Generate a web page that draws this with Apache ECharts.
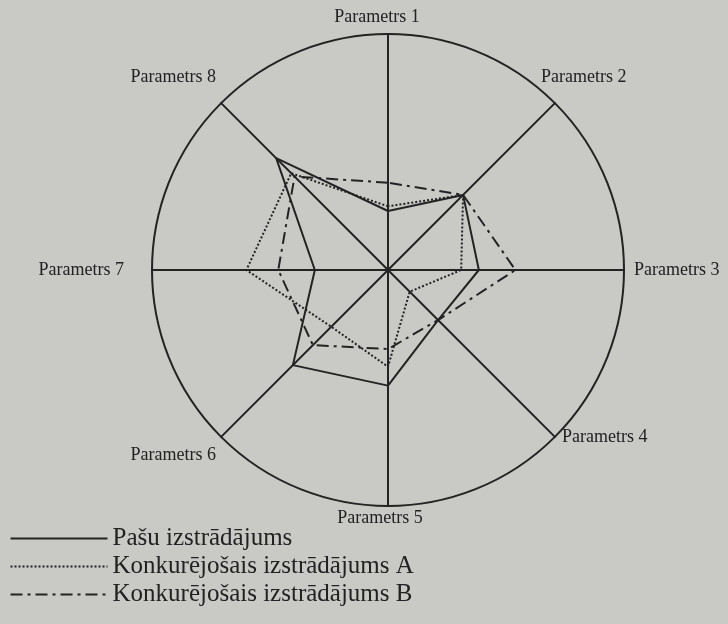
<!DOCTYPE html>
<html>
<head>
<meta charset="utf-8">
<script src="https://cdn.jsdelivr.net/npm/echarts@6/dist/echarts.min.js"></script>
<style>
  html, body { margin: 0; padding: 0; background: #c9c9c6; }
  #chart { width: 728px; height: 624px; }
</style>
</head>
<body>
<div id="chart"></div>
<script>
// Parameter names, clockwise from the top
const parameters = ['Parametrs 1', 'Parametrs 2', 'Parametrs 3', 'Parametrs 4',
                    'Parametrs 5', 'Parametrs 6', 'Parametrs 7', 'Parametrs 8'];
// Series names
const seriesNames = ['Pašu izstrādājums', 'Konkurējošais izstrādājums A', 'Konkurējošais izstrādājums B'];
// Scores on a 0..1 scale, one per parameter (same order as above)
const ownProduct   = [0.25, 0.45, 0.385, 0.30, 0.49, 0.57, 0.31, 0.67];
const competitorA  = [0.27, 0.45, 0.31, 0.13, 0.41, 0.34, 0.60, 0.58];
const competitorB  = [0.37, 0.45, 0.54, 0.30, 0.335, 0.45, 0.465, 0.56];

// Where each parameter caption sits around the circle (anchor point and alignment)
const captionPlacement = [
  { x: 377, y: 17,  align: 'center' },
  { x: 541, y: 77,  align: 'left' },
  { x: 634, y: 270, align: 'left' },
  { x: 562, y: 437, align: 'left' },
  { x: 380, y: 518, align: 'center' },
  { x: 216, y: 455, align: 'right' },
  { x: 124, y: 270, align: 'right' },
  { x: 216, y: 77,  align: 'right' }
];

// ECharts lays radar indicators out counter-clockwise; reorder so they run clockwise
const order = [0, 7, 6, 5, 4, 3, 2, 1];
const byOrder = arr => order.map(i => arr[i]);

const ink = '#232323';
const serif = '"Liberation Serif", "Times New Roman", serif';
const lineTypes = ['solid', 'dotted', [12, 5, 3, 5]];
const allSeries = [ownProduct, competitorA, competitorB];

const chart = echarts.init(document.getElementById('chart'));
chart.setOption({
  backgroundColor: '#c9c9c6',
  animation: false,
  graphic: parameters.map((name, i) => ({
    type: 'text',
    x: captionPlacement[i].x,
    y: captionPlacement[i].y,
    silent: true,
    style: {
      text: name,
      fill: '#222',
      font: '18px ' + serif,
      align: captionPlacement[i].align,
      textAlign: captionPlacement[i].align,
      verticalAlign: 'middle',
      textVerticalAlign: 'middle'
    }
  })),
  legend: {
    orient: 'vertical',
    left: 8,
    top: 526,
    padding: 0,
    itemWidth: 97,
    itemHeight: 10,
    itemGap: 3,
    selectedMode: false,
    textStyle: { color: '#222', fontFamily: serif, fontSize: 25, lineHeight: 25 },
    data: seriesNames.map((name, i) => ({
      name,
      icon: 'path://M0,5L100,5M0,0L0,0M0,10L0,10',
      itemStyle: { color: 'none', borderColor: ink, borderWidth: 2, borderType: lineTypes[i] }
    }))
  },
  radar: {
    center: [388, 270],
    radius: 236,
    startAngle: 90,
    shape: 'circle',
    splitNumber: 1,
    indicator: byOrder(parameters).map(name => ({ name, min: 0, max: 1 })),
    axisName: { show: false },
    axisLine: { lineStyle: { color: ink, width: 2 } },
    splitLine: { lineStyle: { color: ink, width: 2 } },
    splitArea: { show: false }
  },
  series: [{
    type: 'radar',
    symbol: 'none',
    data: allSeries.map((vals, i) => ({
      name: seriesNames[i],
      value: byOrder(vals),
      lineStyle: { color: ink, width: 2, type: lineTypes[i] },
      itemStyle: { color: ink }
    }))
  }]
});
</script>
</body>
</html>
